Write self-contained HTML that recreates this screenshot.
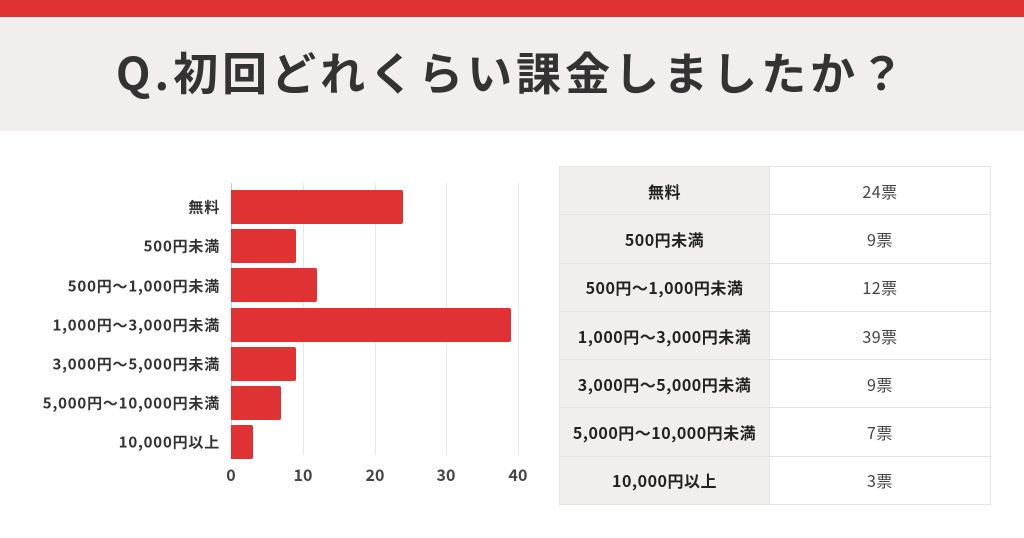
<!DOCTYPE html>
<html><head><meta charset="utf-8"><style>
*{margin:0;padding:0;box-sizing:border-box}
body{width:1024px;height:538px;background:#fff;position:relative;overflow:hidden;font-family:"Noto Sans CJK JP","Liberation Sans",sans-serif;color:#333}
.top{position:absolute;left:0;top:0;width:1024px;height:17px;background:#e03232}
.band{position:absolute;left:0;top:17px;width:1024px;height:114px;background:#f3eeee}
.title{position:absolute;left:0;top:14px;width:1024px;height:114px;line-height:114px;text-align:center;font-size:45px;font-weight:bold;letter-spacing:4px;color:#333}
.lab{position:absolute;right:804px;font-size:15px;font-weight:bold;color:#333;white-space:nowrap;transform:translateY(-50%);letter-spacing:0.8px}
.bar{position:absolute;left:231px;height:34px;background:#e03232;border-radius:0 2px 2px 0}
.grid{position:absolute;top:183px;height:272px;width:1px;background:#e8e8e8}
.tick{position:absolute;top:462px;font-size:16px;font-weight:bold;color:#444;transform:translateX(-50%)}
table{position:absolute;left:559px;top:166px;width:432px;border-collapse:collapse}
td{border:1px solid #e4e4e4;height:48.3px;text-align:center;font-size:16px;letter-spacing:0.5px}
td.a{width:210px;background:#f3eeee;font-weight:bold;color:#222}
td.b{color:#444}
</style></head><body>
<div class="top"></div><div class="band"></div>
<div class="title">Q.初回どれくらい課金しましたか？</div>
<div class="grid" style="left:231px;background:#ccc"></div>
<div class="grid" style="left:303px"></div>
<div class="grid" style="left:375px"></div>
<div class="grid" style="left:446px"></div>
<div class="grid" style="left:518px"></div>
<div class="bar" style="top:190px;width:172px"></div>
<div class="bar" style="top:229px;width:65px"></div>
<div class="bar" style="top:268px;width:86px"></div>
<div class="bar" style="top:308px;width:280px"></div>
<div class="bar" style="top:347px;width:65px"></div>
<div class="bar" style="top:386px;width:50px"></div>
<div class="bar" style="top:425px;width:22px"></div>
<div class="lab" style="top:207px">無料</div>
<div class="lab" style="top:246px">500円未満</div>
<div class="lab" style="top:286px">500円〜1,000円未満</div>
<div class="lab" style="top:325px">1,000円〜3,000円未満</div>
<div class="lab" style="top:364px">3,000円〜5,000円未満</div>
<div class="lab" style="top:403px">5,000円〜10,000円未満</div>
<div class="lab" style="top:442px">10,000円以上</div>
<div class="tick" style="left:231px">0</div>
<div class="tick" style="left:303px">10</div>
<div class="tick" style="left:375px">20</div>
<div class="tick" style="left:446px">30</div>
<div class="tick" style="left:518px">40</div>
<table>
<tr><td class="a">無料</td><td class="b">24票</td></tr>
<tr><td class="a">500円未満</td><td class="b">9票</td></tr>
<tr><td class="a">500円〜1,000円未満</td><td class="b">12票</td></tr>
<tr><td class="a">1,000円〜3,000円未満</td><td class="b">39票</td></tr>
<tr><td class="a">3,000円〜5,000円未満</td><td class="b">9票</td></tr>
<tr><td class="a">5,000円〜10,000円未満</td><td class="b">7票</td></tr>
<tr><td class="a">10,000円以上</td><td class="b">3票</td></tr>
</table>
</body></html>
